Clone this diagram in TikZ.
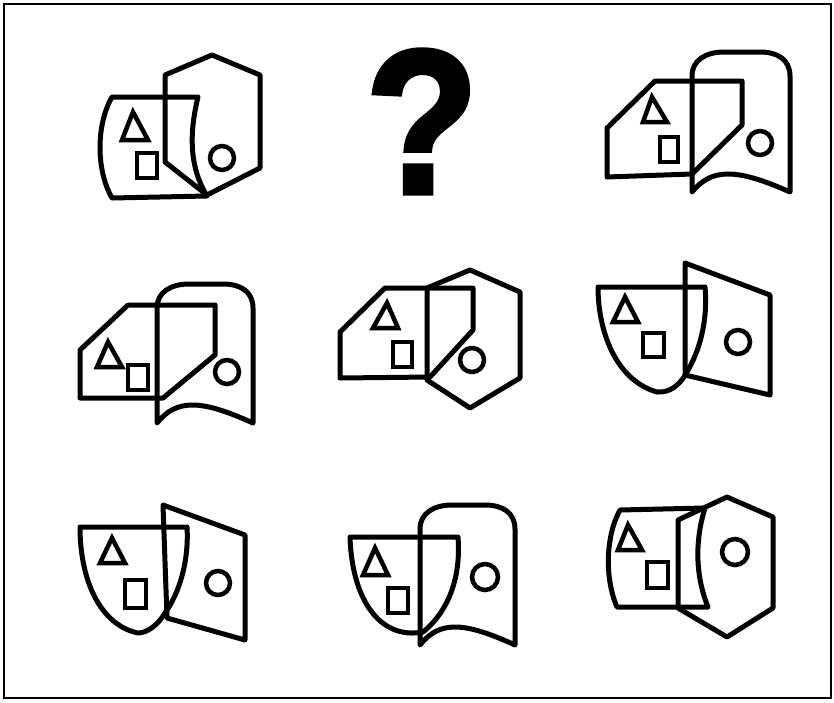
\documentclass[tikz,border=0pt]{standalone}
\usepackage{fontspec}
\setmainfont{Liberation Sans}
\newfontfamily\qmfont[FakeBold=2.5]{Liberation Sans Bold}
\newcommand\banpath[4]{% L R T B
  (#1,#4) -- (#1,{#3+24}) .. controls (#1,{#3+8}) and ({#1+14},#3) .. ({#1+32},#3)
  -- ({#2-30},#3) .. controls ({#2-12},#3) and (#2,{#3+8}) .. (#2,{#3+24})
  -- (#2,#4) .. controls ({#2-0.55*(#2-#1)},{#4-24}) and ({#1+0.2*(#2-#1)},{#4-24}) .. cycle}
\begin{document}
\begin{tikzpicture}[x=1pt,y=-1pt,
  outl/.style={line width=5pt,line join=round},
  smal/.style={line width=4.5pt,line join=miter},
  frm/.style={line width=2pt}]
\useasboundingbox (0,0) rectangle (834,702);
\fill[white] (0,0) rectangle (834,702);
\draw[frm] (4,4) rectangle (831,698);

% ---- Figure 1 (top left)
\draw[outl] (212,55)--(260,75)--(260,168)--(207,195)--(165,162)--(165,75)--cycle;
\draw[outl] (112,97)--(198,97) .. controls (190,130) and (188,165) .. (207,196) -- (112,198) .. controls (96,170) and (96,125) .. cycle;
\draw[smal] (133,112)--(148,140)--(122,140)--cycle;
\draw[smal] (137,153) rectangle (157,178);
\draw[smal] (222,158) circle[radius=12pt];

% ---- Question mark
\node[anchor=base,inner sep=0pt,xscale=0.9] (qm) at (422,193) {\fontsize{205}{205}\selectfont\qmfont ?};

% ---- Figure 2 (top right)
\draw[outl] (607,128)--(655,81)--(742,81)--(742,125)--(692,174)--(607,177)--cycle;
\draw[outl] \banpath{692}{790}{52}{192};
\draw[smal] (652,97)--(667,122)--(643,122)--cycle;
\draw[smal] (660,137) rectangle (678,162);
\draw[smal] (760,143) circle[radius=12pt];

% ---- Figure 3 (middle left)
\draw[outl] (80,350)--(128,305)--(215,305)--(215,355)--(163,398)--(80,398)--cycle;
\draw[outl] \banpath{157}{253}{284}{423};
\draw[smal] (108,342)--(122,367)--(97,367)--cycle;
\draw[smal] (128,365) rectangle (148,390);
\draw[smal] (227,372) circle[radius=12pt];

% ---- Figure 4 (middle centre)
\draw[outl] (340,332)--(385,288)--(473,288)--(473,330)--(430,377)--(340,378)--cycle;
\draw[outl] (470,270)--(520,292)--(520,378)--(470,408)--(427,380)--(427,288)--cycle;
\draw[smal] (387,303)--(398,328)--(373,328)--cycle;
\draw[smal] (393,342) rectangle (412,367);
\draw[smal] (472,360) circle[radius=12pt];

% ---- Figure 5 (middle right)
\draw[outl] (598,287)--(705,287) .. controls (708,320) and (700,350) .. (687,372) .. controls (680,385) and (670,393) .. (657,392) .. controls (615,380) and (598,330) .. cycle;
\draw[outl] (685,263)--(770,295)--(770,395)--(685,375)--cycle;
\draw[smal] (625,297)--(638,322)--(613,322)--cycle;
\draw[smal] (643,333) rectangle (664,357);
\draw[smal] (738,342) circle[radius=12pt];

% ---- Figure 6 (bottom left)
\draw[outl] (80,527)--(187,527) .. controls (189,560) and (180,592) .. (165,613) .. controls (158,625) and (147,633) .. (138,633) .. controls (100,625) and (80,580) .. cycle;
\draw[outl] (163,505)--(245,535)--(245,640)--(167,618)--cycle;
\draw[smal] (112,538)--(125,563)--(100,563)--cycle;
\draw[smal] (125,580) rectangle (146,608);
\draw[smal] (218,583) circle[radius=12pt];

% ---- Figure 7 (bottom centre)
\draw[outl] (350,537)--(458,537) .. controls (461,575) and (450,610) .. (423,632) .. controls (380,640) and (352,600) .. cycle;
\draw[outl] \banpath{420}{515}{505}{645};
\draw[smal] (375,548)--(388,575)--(363,575)--cycle;
\draw[smal] (388,588) rectangle (408,613);
\draw[smal] (485,577) circle[radius=13pt];

% ---- Figure 8 (bottom right)
\draw[outl] (727,497)--(773,517)--(773,608)--(727,637)--(678,608)--(678,520)--cycle;
\draw[outl] (620,510)--(705,508) .. controls (695,540) and (695,575) .. (708,607) -- (617,607) .. controls (605,580) and (605,537) .. cycle;
\draw[smal] (628,525)--(642,550)--(618,550)--cycle;
\draw[smal] (647,562) rectangle (668,588);
\draw[smal] (735,552) circle[radius=13pt];
\end{tikzpicture}
\end{document}
